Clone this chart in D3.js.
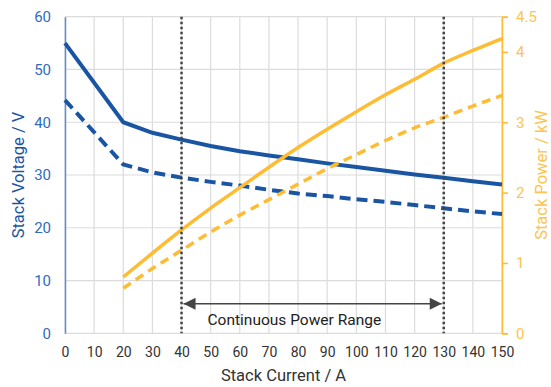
<!DOCTYPE html>
<html>
<head>
<meta charset="utf-8">
<script src="https://cdn.jsdelivr.net/npm/d3@7"></script>
<style>
  body { margin: 0; background: #fff; }
  text { font-family: Roboto, "Open Sans", sans-serif; }
</style>
</head>
<body>
<svg id="chart" width="551" height="387"></svg>
<script>
// currents (A)
const current = [0, 20, 30, 40, 50, 60, 70, 80, 90, 100, 110, 120, 130, 140, 150];
const powerCurrent = [20, 30, 40, 50, 60, 70, 80, 90, 100, 110, 120, 130, 140, 150];

// stack voltage (V)
const voltageSolid = [55, 40, 38, 36.7, 35.5, 34.5, 33.7, 33, 32.2, 31.5, 30.8, 30.1, 29.5, 28.8, 28.2];
const voltageDashed = [44.2, 32, 30.5, 29.5, 28.7, 28, 27.2, 26.5, 26, 25.4, 24.9, 24.3, 23.7, 23.1, 22.6];

// stack power (kW)
const powerSolid = [0.8, 1.14, 1.47, 1.78, 2.07, 2.36, 2.64, 2.9, 3.15, 3.39, 3.61, 3.84, 4.02, 4.19];
const powerDashed = [0.64, 0.92, 1.18, 1.44, 1.68, 1.9, 2.12, 2.34, 2.54, 2.74, 2.92, 3.07, 3.23, 3.38];

const xTicks = d3.range(0, 151, 10);
const voltTicks = [0, 10, 20, 30, 40, 50, 60];
const powerTicks = [0, 1, 2, 3, 4, 4.5];
const rangeMarks = [40, 130];
const rangeLabel = "Continuous Power Range";

const blue = '#1a55a4';
const blueText = '#2f6cbf';
const orange = '#fdbc33';
const orangeText = '#fcc450';
const grey = '#454545';

const margin = {top: 16.7, right: 49, bottom: 53.7, left: 65},
  width = 551 - margin.left - margin.right,
  height = 387 - margin.top - margin.bottom;

const svg = d3.select('#chart');
const g = svg.append('g').attr('transform', `translate(${margin.left},${margin.top})`);

const x = d3.scaleLinear().domain([0, 150]).range([0, width]);
const yV = d3.scaleLinear().domain([0, 60]).range([height, 0]);
const yP = d3.scaleLinear().domain([0, 4.5]).range([height, 0]);

// grid
g.selectAll('.vgrid').data(xTicks).enter().append('line')
  .attr('x1', d => x(d)).attr('x2', d => x(d))
  .attr('y1', 0).attr('y2', height)
  .attr('stroke', '#dcdcdc').attr('stroke-width', 1.2);
g.selectAll('.hgrid').data(voltTicks).enter().append('line')
  .attr('x1', 0).attr('x2', width)
  .attr('y1', d => yV(d)).attr('y2', d => yV(d))
  .attr('stroke', '#dcdcdc').attr('stroke-width', 1.2);

// left axis
const leftAxis = g.append('g')
  .call(d3.axisLeft(yV).tickValues(voltTicks).tickSize(0).tickPadding(14));
leftAxis.select('.domain').attr('stroke', '#5d8fd4').attr('stroke-width', 1.5);
leftAxis.selectAll('text').attr('fill', blueText).style('font-size', '15px');

// right axis
const rightAxis = g.append('g').attr('transform', `translate(${width},0)`)
  .call(d3.axisRight(yP).tickValues(powerTicks).tickSize(6).tickPadding(8).tickFormat(d3.format('')));
rightAxis.select('.domain').attr('stroke', orange).attr('stroke-width', 1.5);
rightAxis.selectAll('line').attr('stroke', orange).attr('stroke-width', 1.5);
rightAxis.selectAll('text').attr('fill', orangeText).style('font-size', '15px');

// bottom axis
const bottomAxis = g.append('g').attr('transform', `translate(0,${height})`)
  .call(d3.axisBottom(x).tickValues(xTicks).tickSize(0).tickPadding(14));
bottomAxis.select('.domain').remove();
bottomAxis.selectAll('text').attr('fill', '#333').style('font-size', '14px');

// axis titles
svg.append('text')
  .attr('transform', `translate(24,${margin.top + height / 2}) rotate(-90)`)
  .attr('text-anchor', 'middle')
  .attr('fill', blue)
  .style('font-size', '16.5px')
  .text('Stack Voltage / V');
svg.append('text')
  .attr('transform', `translate(547,${margin.top + height / 2}) rotate(-90)`)
  .attr('text-anchor', 'middle')
  .attr('fill', orangeText)
  .style('font-size', '16.5px')
  .text('Stack Power / kW');
svg.append('text')
  .attr('x', margin.left + width / 2).attr('y', 381)
  .attr('text-anchor', 'middle')
  .attr('fill', '#333')
  .style('font-size', '16.5px')
  .text('Stack Current / A');

// series
const lineV = d3.line().x((d, i) => x(current[i])).y(d => yV(d));
const lineP = d3.line().x((d, i) => x(powerCurrent[i])).y(d => yP(d)).curve(d3.curveMonotoneX);

g.append('path').datum(voltageDashed).attr('d', lineV)
  .attr('fill', 'none').attr('stroke', blue).attr('stroke-width', 4)
  .attr('stroke-dasharray', '11,6');
g.append('path').datum(voltageSolid).attr('d', lineV)
  .attr('fill', 'none').attr('stroke', blue).attr('stroke-width', 4);
g.append('path').datum(powerDashed).attr('d', lineP)
  .attr('fill', 'none').attr('stroke', orange).attr('stroke-width', 3.5)
  .attr('stroke-dasharray', '9,6');
g.append('path').datum(powerSolid).attr('d', lineP)
  .attr('fill', 'none').attr('stroke', orange).attr('stroke-width', 3.5);

// continuous range markers
g.selectAll('.mark').data(rangeMarks).enter().append('line')
  .attr('x1', d => x(d)).attr('x2', d => x(d))
  .attr('y1', 0).attr('y2', height)
  .attr('stroke', grey).attr('stroke-width', 2.5)
  .attr('stroke-dasharray', '2.5,2.5');

const defs = svg.append('defs');
defs.append('marker')
  .attr('id', 'arrow')
  .attr('viewBox', '0 0 10 10')
  .attr('refX', 10).attr('refY', 5)
  .attr('markerWidth', 13).attr('markerHeight', 12)
  .attr('markerUnits', 'userSpaceOnUse')
  .attr('orient', 'auto-start-reverse')
  .append('path').attr('d', 'M0,0L10,5L0,10z').attr('fill', grey);

const arrowY = yV(5.6);
g.append('line')
  .attr('x1', x(rangeMarks[0]) + 2).attr('x2', x(rangeMarks[1]) - 2)
  .attr('y1', arrowY).attr('y2', arrowY)
  .attr('stroke', grey).attr('stroke-width', 1.6)
  .attr('marker-start', 'url(#arrow)').attr('marker-end', 'url(#arrow)');

g.append('text')
  .attr('x', x(rangeMarks[0]) + 26).attr('y', arrowY + 21)
  .attr('text-anchor', 'start')
  .attr('fill', '#222')
  .style('font-size', '15.5px')
  .text(rangeLabel);
</script>
</body>
</html>
